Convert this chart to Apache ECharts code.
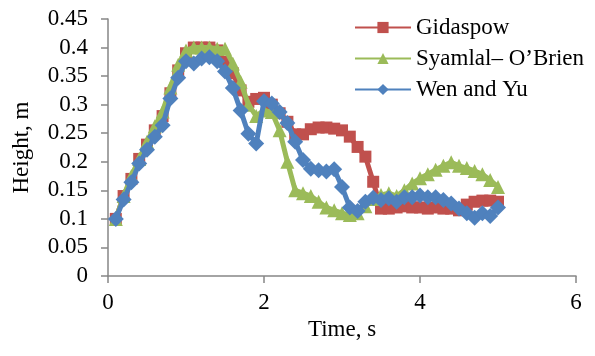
<!DOCTYPE html>
<html><head><meta charset="utf-8">
<script src="https://cdn.jsdelivr.net/npm/echarts@6/dist/echarts.min.js"></script>
<style>html,body{margin:0;padding:0;background:#fff}#c{width:595px;height:356px}</style>
</head><body><div id="c"></div>
<script>
const time = [0.1,0.2,0.3,0.4,0.5,0.6,0.7,0.8,0.9,1.0,1.1,1.2,1.3,1.4,1.5,1.6,1.7,1.8,1.9,2.0,2.1,2.2,2.3,2.4,2.5,2.6,2.7,2.8,2.9,3.0,3.1,3.2,3.3,3.4,3.5,3.6,3.7,3.8,3.9,4.0,4.1,4.2,4.3,4.4,4.5,4.6,4.7,4.8,4.9,5.0];
const gidaspow = [0.10,0.14,0.17,0.205,0.23,0.255,0.28,0.32,0.36,0.39,0.40,0.40,0.40,0.395,0.375,0.355,0.325,0.305,0.31,0.312,0.30,0.285,0.27,0.248,0.248,0.257,0.26,0.26,0.258,0.255,0.244,0.226,0.209,0.165,0.118,0.118,0.12,0.122,0.12,0.12,0.118,0.12,0.118,0.118,0.115,0.125,0.13,0.132,0.132,0.13];
const syamlal = [0.10,0.14,0.175,0.205,0.235,0.262,0.288,0.33,0.37,0.395,0.40,0.40,0.40,0.398,0.398,0.372,0.34,0.30,0.28,0.29,0.287,0.255,0.20,0.15,0.145,0.14,0.13,0.12,0.115,0.11,0.107,0.11,0.122,0.135,0.142,0.145,0.14,0.15,0.162,0.171,0.178,0.186,0.193,0.199,0.193,0.189,0.184,0.178,0.168,0.156];
const wenYu = [0.10,0.134,0.164,0.197,0.221,0.244,0.264,0.311,0.347,0.376,0.372,0.381,0.383,0.376,0.358,0.329,0.29,0.249,0.232,0.306,0.302,0.287,0.268,0.235,0.203,0.188,0.185,0.183,0.187,0.156,0.12,0.114,0.13,0.137,0.133,0.136,0.13,0.138,0.138,0.141,0.138,0.138,0.133,0.127,0.118,0.11,0.102,0.11,0.105,0.12];
const seriesNames = ['Gidaspow','Syamlal\u2013 O\u2019Brien','Wen and Yu'];
const colors = ['#C0504D','#9BBB59','#4F81BD'];
const symbols = ['rect','triangle','diamond'];
const symbolSizes = [12,14,16];
const values = [gidaspow, syamlal, wenYu];

const font = "'Liberation Serif', 'Times New Roman', serif";
const fs = 23;
const chart = echarts.init(document.getElementById('c'), null, {renderer:'canvas'});
chart.setOption({
  animation:false,
  backgroundColor:'#fff',
  grid:{left:108, right:19, top:19, bottom:80, containLabel:false},
  legend:{
    orient:'vertical', left:349, top:11, itemWidth:56, itemHeight:14, itemGap:8,
    textStyle:{fontFamily:font, fontSize:fs, color:'#000'},
    data: seriesNames
  },
  xAxis:{
    type:'value', min:0, max:6, interval:2,
    name:'Time, s', nameLocation:'middle', nameGap:36,
    nameTextStyle:{fontFamily:font, fontSize:fs, color:'#000'},
    axisLine:{show:true, lineStyle:{color:'#868686', width:1.5}},
    axisTick:{show:true, length:7, lineStyle:{color:'#868686', width:1.5}},
    axisLabel:{fontFamily:font, fontSize:fs, color:'#000', margin:15},
    splitLine:{show:false}
  },
  yAxis:{
    type:'value', min:0, max:0.45, interval:0.05,
    name:'Height, m', nameLocation:'middle', nameGap:75, nameRotate:90,
    nameTextStyle:{fontFamily:font, fontSize:fs, color:'#000'},
    axisLine:{show:true, lineStyle:{color:'#868686', width:1.5}},
    axisTick:{show:true, length:7, lineStyle:{color:'#868686', width:1.5}},
    axisLabel:{fontFamily:font, fontSize:fs, color:'#000', margin:20,
      formatter: v => String(Math.round(v*100)/100)},
    splitLine:{show:false}
  },
  series: seriesNames.map((n,i)=>({
    name:n, type:'line', data: time.map((t,k)=>[t, values[i][k]]),
    symbol:symbols[i], symbolSize:symbolSizes[i], showAllSymbol:true,
    itemStyle:{color:colors[i]}, lineStyle:{color:colors[i], width:5},
    z: 2+i
  }))
});
</script></body></html>
